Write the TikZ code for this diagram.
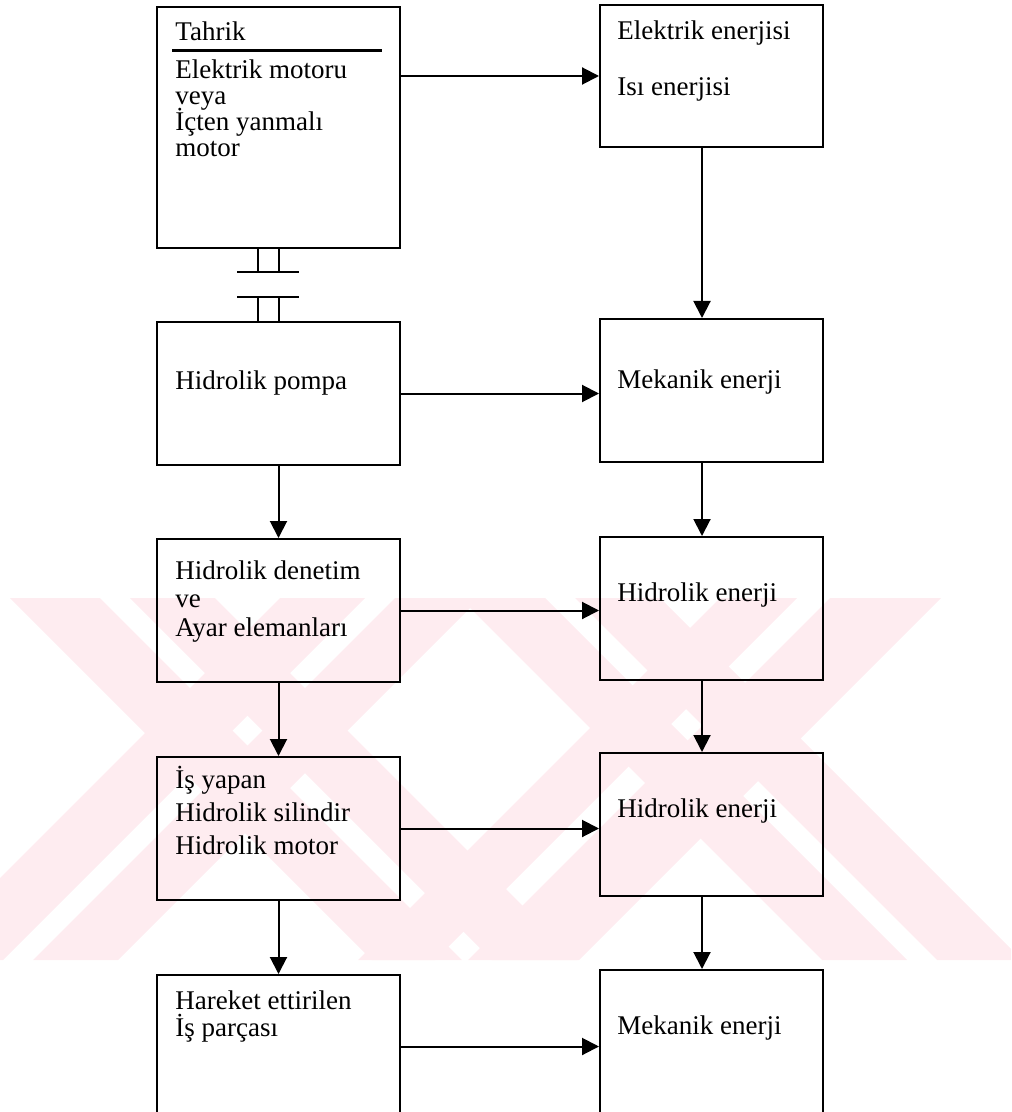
\documentclass[tikz,border=0pt]{standalone}
\usepackage{fontspec}
\setmainfont{Liberation Serif}
\usepackage{xcolor}
\usepackage{tikz}
\usetikzlibrary{arrows.meta,positioning}

\definecolor{wmpink}{RGB}{254,236,240}

\begin{document}
\begin{tikzpicture}[x=0.5pt, y=-0.5pt,
    lbox/.style={rectangle, draw, line width=1pt, minimum width=121.5pt, minimum height=71.5pt, inner sep=0pt},
    rbox/.style={rectangle, draw, line width=1pt, minimum width=111.5pt, minimum height=71.5pt, inner sep=0pt},
    txt/.style={anchor=base west, align=left, inner sep=0pt, font=\fontsize{13.5}{16.5}\selectfont},
    arrow/.style={-{Triangle[length=8.5pt,width=8.5pt]}, line width=1pt},
    shaft/.style={line width=1pt}]

    \useasboundingbox (0,0) rectangle (1011,1112);

    % watermark
    \begin{scope}
    \clip (0,598) rectangle (1011,960);
    \foreach \a/\b in {10/100, 130/215, 460/545, 575/660}
        \fill[wmpink] (\a,598) -- (\b,598) -- (\b+362,960) -- (\a+362,960) -- cycle;
    \foreach \a/\b in {280/365, 395/480, 720/797, 830/941}
        \fill[wmpink] (\a,598) -- (\b,598) -- (\b-362,960) -- (\a-362,960) -- cycle;
    \end{scope}

    % left column
    \node[lbox, minimum height=120.5pt] (tahrik) at (278.5,127.5) {};
    \node[lbox, below=36pt of tahrik] (pompa) {};
    \node[lbox, below=36pt of pompa] (denetim) {};
    \node[lbox, below=36.5pt of denetim] (isyapan) {};
    \node[lbox, below=36.5pt of isyapan] (hareket) {};

    % right column
    \node[rbox, minimum height=71pt] (elektrik) at (711.5,76) {};
    \node[rbox, below=85pt of elektrik] (mekanik) {};
    \node[rbox, below=36.5pt of mekanik] (hidenA) {};
    \node[rbox, below=35.5pt of hidenA] (hidenB) {};
    \node[rbox, below=36pt of hidenB] (mekanikB) {};

    % texts (base = last line)
    \node[txt] (tahrikT) at ([xshift=9.5pt,yshift=-17.5pt]tahrik.north west) {Tahrik};
    \draw[line width=1.5pt] ([xshift=8pt,yshift=-22.5pt]tahrik.north west) -- ([xshift=-9.5pt,yshift=-22.5pt]tahrik.north east);
    \node[txt] (tahrikB) at ([xshift=9.5pt,yshift=-75.5pt]tahrik.north west) {Elektrik motoru\\[-3.5pt]veya\\[-3.5pt]İçten yanmalı\\[-3.5pt]motor};
    \node[txt] (pompaT) at ([xshift=9.5pt,yshift=-34pt]pompa.north west) {Hidrolik pompa};
    \node[txt] (denetimT) at ([xshift=9.5pt,yshift=-49pt]denetim.north west) {Hidrolik denetim\\[-2.25pt]ve\\[-2.25pt]Ayar elemanları};
    \node[txt] (isyapanT) at ([xshift=9.5pt,yshift=-49pt]isyapan.north west) {İş yapan\\Hidrolik silindir\\Hidrolik motor};
    \node[txt] (hareketT) at ([xshift=9.5pt,yshift=-31pt]hareket.north west) {Hareket ettirilen\\[-3pt]İş parçası};

    \node[txt] (elektrikT) at ([xshift=9pt,yshift=-46pt]elektrik.north west) {Elektrik enerjisi\\[11.5pt]Isı enerjisi};
    \node[txt] (mekanikT) at ([xshift=9pt,yshift=-35pt]mekanik.north west) {Mekanik enerji};
    \node[txt] (hidenAT) at ([xshift=9pt,yshift=-32.5pt]hidenA.north west) {Hidrolik enerji};
    \node[txt] (hidenBT) at ([xshift=9pt,yshift=-32.5pt]hidenB.north west) {Hidrolik enerji};
    \node[txt] (mekanikBT) at ([xshift=9pt,yshift=-32.5pt]mekanikB.north west) {Mekanik enerji};

    % coupling
    \coordinate (cplA) at ([yshift=-11.5pt]tahrik.south);
    \coordinate (cplB) at ([yshift=12pt]pompa.north);
    \draw[shaft] ([xshift=-10.25pt]tahrik.south) -- ([xshift=-10.25pt]cplA);
    \draw[shaft] (tahrik.south) -- (cplA);
    \draw[shaft] ([xshift=-20.75pt]cplA) -- ([xshift=10.25pt]cplA);
    \draw[shaft] ([xshift=-20.75pt]cplB) -- ([xshift=10.25pt]cplB);
    \draw[shaft] ([xshift=-10.25pt]cplB) -- ([xshift=-10.25pt]pompa.north);
    \draw[shaft] (cplB) -- (pompa.north);

    % arrows
    \draw[arrow] (tahrik.east |- elektrik.west) -- (elektrik.west);
    \draw[arrow] (pompa.east) -- (pompa.east -| mekanik.west);
    \draw[arrow] (denetim.east) -- (denetim.east -| hidenA.west);
    \draw[arrow] (isyapan.east) -- (isyapan.east -| hidenB.west);
    \draw[arrow] (hareket.east) -- (hareket.east -| mekanikB.west);

    \draw[arrow] (pompa) -- (denetim);
    \draw[arrow] (denetim) -- (isyapan);
    \draw[arrow] (isyapan) -- (hareket);

    \draw[arrow] ([xshift=-4.75pt]elektrik.south) -- ([xshift=-4.75pt]mekanik.north);
    \draw[arrow] ([xshift=-4.75pt]mekanik.south) -- ([xshift=-4.75pt]hidenA.north);
    \draw[arrow] ([xshift=-4.75pt]hidenA.south) -- ([xshift=-4.75pt]hidenB.north);
    \draw[arrow] ([xshift=-4.75pt]hidenB.south) -- ([xshift=-4.75pt]mekanikB.north);

\end{tikzpicture}
\end{document}
